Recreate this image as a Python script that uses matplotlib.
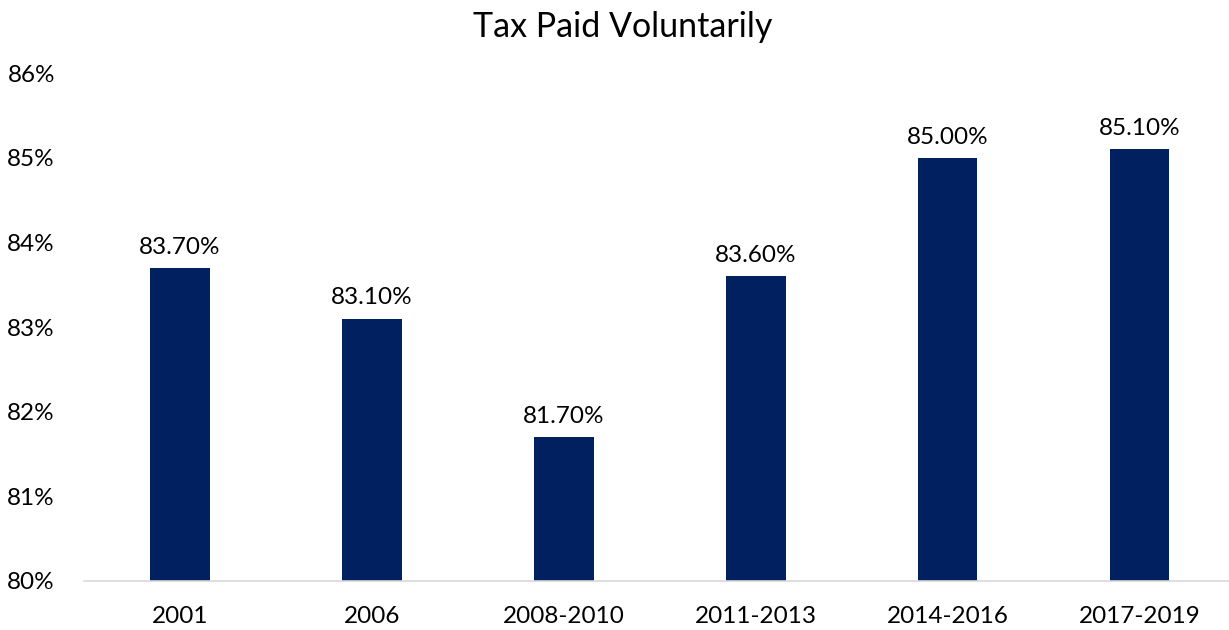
import matplotlib
matplotlib.use("Agg")
import matplotlib.pyplot as plt
from matplotlib.ticker import FuncFormatter

periods = ["2001", "2006", "2008-2010", "2011-2013", "2014-2016", "2017-2019"]
paid_pct = [83.7, 83.1, 81.7, 83.6, 85.0, 85.1]

plt.rcParams['font.family'] = ['Lato', 'DejaVu Sans']

fig = plt.figure(figsize=(12.29, 6.3), dpi=100)
ax = fig.add_axes([0.0684, 0.0778, 0.937, 0.8063])

x = range(len(periods))
ax.bar(x, paid_pct, width=0.31, color="#002060", bottom=0)
for i, v in zip(x, paid_pct):
    ax.text(i, v + 0.12, "%.2f%%" % v, ha="center", va="bottom", fontsize=17.5)

ax.set_ylim(80, 86)
ax.set_xlim(-0.5, len(periods) - 0.5)
ax.set_yticks(range(80, 87))
ax.yaxis.set_major_formatter(FuncFormatter(lambda v, p: "%d%%" % v))
ax.set_xticks(list(x))
ax.set_xticklabels(periods)
ax.tick_params(axis="both", length=0, labelsize=17.5)
ax.tick_params(axis="x", pad=18)
ax.tick_params(axis="y", pad=21)
for s in ["top", "right", "left"]:
    ax.spines[s].set_visible(False)
ax.spines["bottom"].set_color("#D9D9D9")
ax.spines["bottom"].set_linewidth(1.2)

fig.suptitle("Tax Paid Voluntarily", fontsize=24.5, x=0.507, y=0.982)
fig.savefig("out.png", dpi=100)
